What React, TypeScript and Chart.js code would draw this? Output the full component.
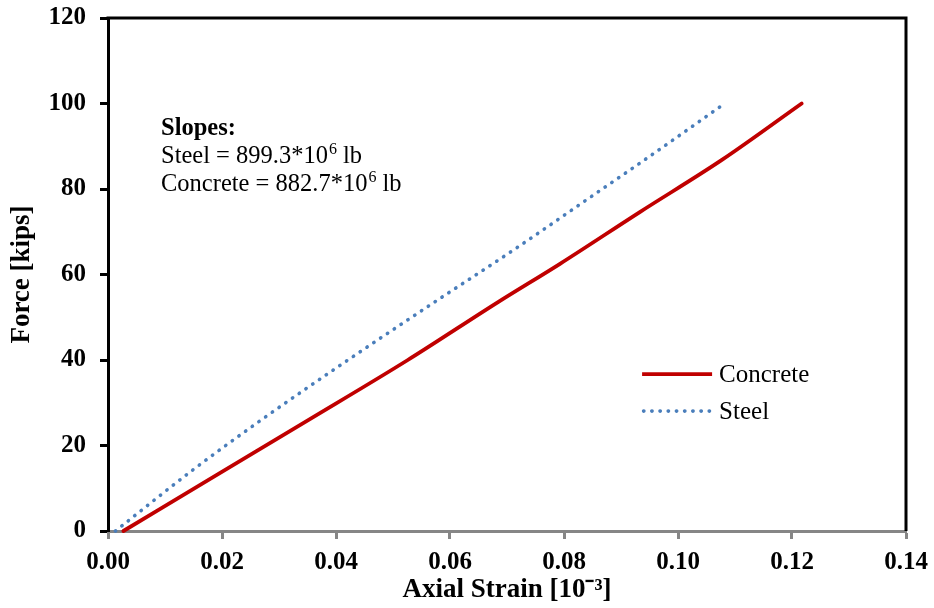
import React, { useEffect, useRef } from 'react';
import { Chart, registerables } from 'chart.js';

Chart.register(...registerables);

// ---- data ----
const concreteStrain = [0.0027, 0.0199, 0.0352, 0.0526, 0.0685, 0.0793, 0.0933, 0.1077, 0.1217];
const concreteForce = [0, 13.8, 26.0, 40.0, 53.6, 62.5, 74.6, 86.8, 100];
const steelStrain = [0.0013, 0.0149, 0.0267, 0.0421, 0.0578, 0.0711, 0.0866, 0.0938, 0.1082];
const steelForce = [0, 14.3, 25.8, 40.0, 54.0, 65.7, 79.9, 86.5, 100];
const xTicks = [0, 0.02, 0.04, 0.06, 0.08, 0.1, 0.12, 0.14];
const yTicks = [0, 20, 40, 60, 80, 100, 120];
const seriesNames = ['Concrete', 'Steel'];
const xTitle = 'Axial Strain [10⁻³]';
const yTitle = 'Force [kips]';
const annotationHeading = 'Slopes:';
const annotationLabels = ['Steel = 899.3*10', 'Concrete = 882.7*10'];
const annotationExponents = ['6', '6'];
const annotationUnits = [' lb', ' lb'];

const RED = '#C00000';
const BLUE = '#4A7EBB';
const GRAY = '#868686';
const SERIF = '"Liberation Serif", "Times New Roman", serif';

const framePlugin = {
  id: 'frame',
  afterDraw(chart: any) {
    const { ctx, chartArea: a } = chart;
    ctx.save();
    ctx.strokeStyle = '#000';
    ctx.lineWidth = 3;
    ctx.beginPath();
    ctx.moveTo(a.left - 1.5, a.top);
    ctx.lineTo(a.right, a.top);
    ctx.lineTo(a.right, a.bottom);
    ctx.stroke();
    ctx.restore();
  },
};

const legendPlugin = {
  id: 'innerLegend',
  afterDraw(chart: any) {
    const { ctx, scales } = chart;
    const x0 = scales.x.getPixelForValue(0.0937);
    const y0 = scales.y.getPixelForValue(36.7);
    const rowGap = 37;
    const lineLen = 70;
    ctx.save();
    chart.data.datasets.forEach((ds: any, i: number) => {
      const y = y0 + i * rowGap;
      ctx.beginPath();
      ctx.strokeStyle = ds.borderColor;
      ctx.lineWidth = ds.borderWidth;
      ctx.lineCap = ds.borderDash ? 'round' : 'butt';
      ctx.setLineDash(ds.borderDash || []);
      ctx.moveTo(x0 + (ds.borderDash ? 1.5 : 0), y);
      ctx.lineTo(x0 + lineLen, y);
      ctx.stroke();
      ctx.setLineDash([]);
      ctx.fillStyle = '#000';
      ctx.font = `25px ${SERIF}`;
      ctx.textBaseline = 'alphabetic';
      ctx.textAlign = 'left';
      ctx.fillText(seriesNames[i], x0 + lineLen + 7, y + 8);
    });
    ctx.restore();
  },
};

const annotationPlugin = {
  id: 'slopes',
  afterDraw(chart: any) {
    const { ctx, scales } = chart;
    const x0 = scales.x.getPixelForValue(0.0093);
    const y0 = scales.y.getPixelForValue(92.6);
    const gap = 28;
    ctx.save();
    ctx.fillStyle = '#000';
    ctx.textAlign = 'left';
    ctx.textBaseline = 'alphabetic';
    ctx.font = `bold 24.5px ${SERIF}`;
    ctx.fillText(annotationHeading, x0, y0);
    annotationLabels.forEach((lab, i) => {
      const y = y0 + gap * (i + 1);
      ctx.font = `24.5px ${SERIF}`;
      ctx.fillText(lab, x0, y);
      let x = x0 + ctx.measureText(lab).width + 1;
      ctx.font = `16px ${SERIF}`;
      ctx.fillText(annotationExponents[i], x, y - 9);
      x += ctx.measureText(annotationExponents[i]).width;
      ctx.font = `24.5px ${SERIF}`;
      ctx.fillText(annotationUnits[i], x, y);
    });
    ctx.restore();
  },
};

export default function App() {
  const ref = useRef<HTMLCanvasElement>(null);
  useEffect(() => {
    document.body.style.margin = '0';
    const canvas = ref.current!;
    const chart = new Chart(canvas, {
      type: 'scatter',
      data: {
        datasets: [
          {
            label: seriesNames[0],
            data: concreteStrain.map((x, i) => ({ x, y: concreteForce[i] })),
            showLine: true,
            borderColor: RED,
            backgroundColor: RED,
            borderWidth: 3.8,
            pointRadius: 0,
            fill: false,
            cubicInterpolationMode: 'monotone',
            borderCapStyle: 'round',
            borderJoinStyle: 'round',
            clip: 8,
          } as any,
          {
            label: seriesNames[1],
            data: steelStrain.map((x, i) => ({ x, y: steelForce[i] })),
            showLine: true,
            borderColor: BLUE,
            backgroundColor: BLUE,
            borderWidth: 3.6,
            borderDash: [0.3, 7.9],
            borderCapStyle: 'round',
            cubicInterpolationMode: 'monotone',
            pointRadius: 0,
            fill: false,
            clip: 8,
          } as any,
        ],
      },
      options: {
        responsive: false,
        animation: false,
        layout: { padding: { top: 18, right: 28, left: 0, bottom: 0 } },
        plugins: { legend: { display: false }, tooltip: { enabled: false } },
        scales: {
          x: {
            type: 'linear',
            min: 0,
            max: 0.14,
            afterBuildTicks: (s: any) => {
              s.ticks = xTicks.map((v) => ({ value: v }));
            },
            afterFit: (s: any) => {
              s.height = 77;
              s.paddingLeft = 0;
              s.paddingRight = 0;
            },
            border: { color: GRAY, width: 3 },
            grid: { drawOnChartArea: false, drawTicks: true, tickLength: 8, tickColor: GRAY, tickWidth: 3 },
            ticks: {
              color: '#000',
              font: { family: SERIF, weight: 'bold', size: 25 },
              padding: 9,
              maxRotation: 0,
              autoSkip: false,
              callback: (v: any) => Number(v).toFixed(2),
            },
            title: {
              display: true,
              text: xTitle,
              color: '#000',
              font: { family: SERIF, weight: 'bold', size: 27 },
              padding: { top: 0, bottom: 2 },
            },
          },
          y: {
            type: 'linear',
            min: 0,
            max: 120,
            afterBuildTicks: (s: any) => {
              s.ticks = yTicks.map((v) => ({ value: v }));
            },
            afterFit: (s: any) => {
              s.width = 108;
              s.paddingTop = 0;
              s.paddingBottom = 0;
            },
            border: { color: '#000', width: 3 },
            grid: { drawOnChartArea: false, drawTicks: true, tickLength: 8, tickColor: '#000', tickWidth: 3 },
            ticks: {
              color: '#000',
              font: { family: SERIF, weight: 'bold', size: 25 },
              padding: 14,
              autoSkip: false,
              callback: (v: any) => String(v),
            },
            title: {
              display: true,
              text: yTitle,
              color: '#000',
              font: { family: SERIF, weight: 'bold', size: 27 },
              padding: { top: 6, bottom: 0 },
            },
          },
        },
      } as any,
      plugins: [framePlugin, legendPlugin, annotationPlugin],
    });
    return () => chart.destroy();
  }, []);
  return <canvas ref={ref} width={934} height={608} style={{ display: 'block' }} />;
}
